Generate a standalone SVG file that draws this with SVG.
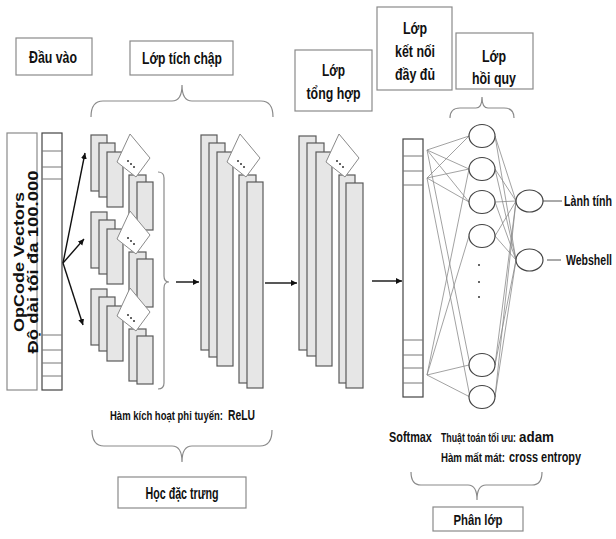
<svg xmlns="http://www.w3.org/2000/svg" width="616" height="539" viewBox="0 0 616 539">
<style>
text{font-family:"Liberation Sans",Arial,sans-serif;fill:#111;font-weight:bold;}
.t{font-size:17px;text-anchor:middle;}
.sm{font-size:12.5px;}
.md{font-size:14px;}
.box{fill:#fff;stroke:#8a8a8a;stroke-width:1.2;}
.brace{fill:none;stroke:#8a8a8a;stroke-width:1.2;}
.fm{fill:#e6e6e6;stroke:#5a5a5a;stroke-width:1.2;}
.card{fill:#fff;stroke:#8a8a8a;stroke-width:1;}
.dot{fill:#333;}
.vec{fill:#fff;stroke:#444;stroke-width:1.2;}
.cell{stroke:#777;stroke-width:1;}
.arr{stroke:#111;stroke-width:1.4;fill:none;marker-end:url(#ah);}
.net{stroke:#8a8a8a;stroke-width:0.8;fill:none;}
.neu{fill:#fff;stroke:#444;stroke-width:1.2;}
.lead{stroke:#555;stroke-width:1;}
</style>
<defs>
<marker id="ah" markerWidth="8" markerHeight="8" refX="6" refY="3" orient="auto" markerUnits="userSpaceOnUse">
<path d="M0,0 L6,3 L0,6 Z" fill="#111"/>
</marker>
<g id="card">
<polygon class="card" points="39,-1 59,23 45,42 26,27"/>
<circle class="dot" cx="37" cy="26" r="1"/>
<circle class="dot" cx="40" cy="29" r="1"/>
<circle class="dot" cx="43" cy="32" r="1"/>
</g>
<g id="cgroup">
<rect class="fm" x="0" y="0" width="16" height="56"/>
<rect class="fm" x="8" y="8" width="16" height="54"/>
<rect class="fm" x="16" y="17" width="16" height="55"/>
<rect class="fm" x="38" y="40" width="17" height="52"/>
<rect class="fm" x="46" y="47" width="16" height="48"/>
<use href="#card"/>
</g>
</defs>
<rect width="616" height="539" fill="#fff"/>

<g id="label-dauvao">
<rect class="box" x="16" y="38" width="76" height="37"/>
<text class="t" transform="translate(53,63) scale(0.727,1)" textLength="66" lengthAdjust="spacingAndGlyphs">Đầu vào</text>
</g>
<g id="label-tichchap">
<rect class="box" x="130" y="41" width="103" height="34"/>
<text class="t" transform="translate(182,64) scale(0.72,1)" textLength="111" lengthAdjust="spacingAndGlyphs">Lớp tích chập</text>
</g>
<g id="label-tonghop">
<rect class="box" x="295" y="50" width="77" height="61"/>
<text class="t" transform="translate(333.5,76) scale(0.72,1)" textLength="32" lengthAdjust="spacingAndGlyphs">Lớp</text>
<text class="t" transform="translate(333.5,99) scale(0.74,1)" textLength="73" lengthAdjust="spacingAndGlyphs">tổng hợp</text>
</g>
<g id="label-ketnoi">
<rect class="box" x="377" y="7" width="75" height="83"/>
<text class="t" transform="translate(415,34) scale(0.75,1)" textLength="32" lengthAdjust="spacingAndGlyphs">Lớp</text>
<text class="t" transform="translate(415,57) scale(0.727,1)" textLength="55" lengthAdjust="spacingAndGlyphs">kết nối</text>
<text class="t" transform="translate(415,80) scale(0.727,1)" textLength="55" lengthAdjust="spacingAndGlyphs">đầy đủ</text>
</g>
<g id="label-hoiquy">
<rect class="box" x="456" y="33" width="77" height="56"/>
<text class="t" transform="translate(494,62) scale(0.75,1)" textLength="32" lengthAdjust="spacingAndGlyphs">Lớp</text>
<text class="t" transform="translate(494,84) scale(0.733,1)" textLength="60" lengthAdjust="spacingAndGlyphs">hồi quy</text>
</g>

<g id="braces">
<path class="brace" d="M91,117 Q91,101 103,101 L172,101 Q182,101 182,85 Q182,101 192,101 L261,101 Q273,101 273,117"/>
<path class="brace" d="M450,118 Q450,108 460,108 L476,108 Q482,108 482,97 Q482,108 488,108 L504,108 Q514,108 514,118"/>
<path class="brace" d="M92,430 Q92,446 104,446 L172,446 Q182,446 182,462 Q182,446 192,446 L260,446 Q272,446 272,430"/>
<path class="brace" d="M411,472 Q411,485 421,485 L468,485 Q477,485 477,500 Q477,485 486,485 L532,485 Q542,485 542,472"/>
<path class="brace" d="M158,172 Q164,172 164,178 L164,276 Q164,282 169,282 Q164,282 164,288 L164,383 Q164,389 158,389"/>
</g>

<g id="input-opcode">
<rect class="box" x="7" y="133" width="30" height="257"/>
<text transform="translate(23.5,262) rotate(-90)" text-anchor="middle" font-size="14" textLength="140" lengthAdjust="spacingAndGlyphs">OpCode Vectors</text>
<text transform="translate(37.5,262) rotate(-90)" text-anchor="middle" font-size="14" textLength="183" lengthAdjust="spacingAndGlyphs">Độ dài tối đa 100.000</text>
</g>
<g id="input-vector">
<rect class="vec" x="42" y="133" width="20" height="257"/>
<path class="cell" d="M42,151H62M42,167H62M42,179H62M42,335H62M42,350H62M42,363H62M42,376H62"/>
</g>

<g id="conv-groups">
<use href="#cgroup" x="91" y="135"/>
<use href="#cgroup" x="91" y="212"/>
<use href="#cgroup" x="91" y="289"/>
</g>

<g id="conv-stack">
<rect class="fm" x="201" y="135" width="16" height="215"/>
<rect class="fm" x="209" y="143" width="16" height="214"/>
<rect class="fm" x="217" y="152" width="16" height="214"/>
<rect class="fm" x="239" y="175" width="17" height="208"/>
<rect class="fm" x="247" y="182" width="16" height="206"/>
<use href="#card" x="201" y="135"/>
</g>

<g id="pool-stack">
<rect class="fm" x="299" y="136" width="17" height="214"/>
<rect class="fm" x="307" y="143" width="17" height="213"/>
<rect class="fm" x="316" y="152" width="16" height="214"/>
<rect class="fm" x="339" y="175" width="16" height="208"/>
<rect class="fm" x="346" y="183" width="17" height="205"/>
<use href="#card" x="300" y="135"/>
</g>

<g id="fc-vector">
<rect class="vec" x="403" y="139" width="20" height="258"/>
<path class="cell" d="M403,156H423M403,171H423M403,185H423M403,340H423M403,355H423M403,368H423M403,383H423"/>
</g>

<g id="connectors">
<line class="arr" x1="63" y1="263" x2="85" y2="153"/>
<line class="arr" x1="63" y1="263" x2="84" y2="239"/>
<line class="arr" x1="63" y1="263" x2="83" y2="325"/>
<line class="arr" x1="176" y1="282" x2="199" y2="282"/>
<line class="arr" x1="265" y1="283" x2="297" y2="283"/>
<line class="arr" x1="372" y1="281" x2="402" y2="281"/>
<path class="net" d="M427,150L469,136M427,150L469,169M427,150L469,202M427,150L470,365
M427,178L469,136M427,178L469,169M427,178L469,202M427,178L470,397
M427,375L469,169M427,375L469,236M427,375L469,365M427,375L470,397"/>
<path class="net" d="M495,136L516,201M495,136L516,260M495,169L516,201M495,169L516,260M495,202L516,201M495,202L516,260M495,236L516,201M495,236L516,260M495,365L516,201M495,365L516,260M495,397L516,201M495,397L516,260"/>
<line class="lead" x1="543" y1="201" x2="562" y2="201"/>
<line class="lead" x1="547" y1="260" x2="561" y2="260"/>
</g>

<g id="hidden-neurons">
<ellipse class="neu" cx="482" cy="136" rx="13" ry="11.5"/>
<ellipse class="neu" cx="482" cy="169" rx="13" ry="11.5"/>
<ellipse class="neu" cx="482" cy="202" rx="13" ry="11.5"/>
<ellipse class="neu" cx="482" cy="236" rx="13" ry="11.5"/>
<ellipse class="neu" cx="482" cy="365" rx="13" ry="11.5"/>
<ellipse class="neu" cx="482" cy="397" rx="13" ry="11.5"/>
<circle class="dot" cx="479" cy="265" r="1"/>
<circle class="dot" cx="479" cy="282" r="1"/>
<circle class="dot" cx="479" cy="297" r="1"/>
</g>
<g id="out-lanhtinh">
<ellipse class="neu" cx="529.5" cy="201" rx="13.5" ry="11"/>
<text class="md" transform="translate(564,206) scale(0.762,1)" textLength="63" lengthAdjust="spacingAndGlyphs">Lành tính</text>
</g>
<g id="out-webshell">
<ellipse class="neu" cx="529.5" cy="260" rx="13.5" ry="11"/>
<text class="md" transform="translate(566,265) scale(0.748,1)" textLength="61.5" lengthAdjust="spacingAndGlyphs">Webshell</text>
</g>

<g id="relu-text">
<text class="sm" transform="translate(110,420) scale(0.758,1)" textLength="149" lengthAdjust="spacingAndGlyphs">Hàm kích hoạt phi tuyến:</text>
<text class="md" transform="translate(228,420) scale(0.73,1)" textLength="37" lengthAdjust="spacingAndGlyphs">ReLU</text>
</g>
<g id="label-hocdactrung">
<rect class="box" x="118" y="477" width="128" height="31"/>
<text class="t" font-size="16" transform="translate(182,499) scale(0.67,1)" textLength="109" lengthAdjust="spacingAndGlyphs">Học đặc trưng</text>
</g>
<g id="classify-text">
<text class="md" transform="translate(389,442) scale(0.78,1)" textLength="55" lengthAdjust="spacingAndGlyphs">Softmax</text>
<text class="sm" transform="translate(441,442) scale(0.70,1)" textLength="107" lengthAdjust="spacingAndGlyphs">Thuật toán tối ưu:</text>
<text class="md" transform="translate(519,442) scale(0.946,1)" textLength="37" lengthAdjust="spacingAndGlyphs">adam</text>
<text class="sm" transform="translate(441,462) scale(0.771,1)" textLength="83" lengthAdjust="spacingAndGlyphs">Hàm mất mát:</text>
<text class="md" transform="translate(509,462) scale(0.783,1)" textLength="92" lengthAdjust="spacingAndGlyphs">cross entropy</text>
</g>
<g id="label-phanlop">
<rect class="box" x="433" y="507" width="90" height="24"/>
<text class="md" text-anchor="middle" transform="translate(478,525) scale(0.817,1)" textLength="60" lengthAdjust="spacingAndGlyphs">Phân lớp</text>
</g>
</svg>
